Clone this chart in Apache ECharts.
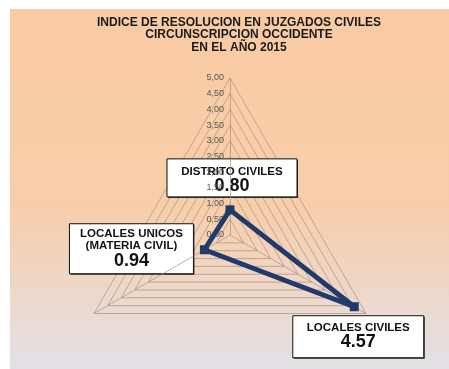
<!DOCTYPE html>
<html><head><meta charset="utf-8">
<script src="https://cdn.jsdelivr.net/npm/echarts@6/dist/echarts.min.js"></script>
<style>html,body{margin:0;padding:0;background:#fff}#c{width:449px;height:369px}</style>
</head><body><div id="c"></div>
<script>
const titleLines = ['INDICE DE RESOLUCION EN JUZGADOS CIVILES', 'CIRCUNSCRIPCION OCCIDENTE', 'EN EL AÑO 2015'];
const categories = ['DISTRITO CIVILES', 'LOCALES UNICOS\n(MATERIA CIVIL)', 'LOCALES CIVILES'];
const values = [0.80, 0.94, 4.57];
const axisMax = 5;

const CX = 230, CY = 235, R = 157;
const chart = echarts.init(document.getElementById('c'), null, {renderer: 'canvas'});
const gridColor = '#a8907e';

const option = {
  backgroundColor: '#ffffff',
  animation: false,
  title: {
    text: titleLines.join('\n'),
    left: 234, top: 11, padding: 5, textAlign: 'center',
    textStyle: {fontFamily: 'Liberation Sans', fontWeight: 'bold', fontSize: 12, lineHeight: 12.5, color: '#1a1a1a'}
  },
  radar: {
    center: [CX, CY], radius: R, startAngle: 90, shape: 'polygon', splitNumber: 10,
    indicator: categories.map((c, i) => ({
      name: c, min: 0, max: axisMax,
      axisLabel: i === 0 ? {show: true} : undefined
    })),
    axisName: {show: false},
    axisLine: {lineStyle: {color: gridColor, width: 0.7}},
    splitLine: {lineStyle: {color: gridColor, width: 0.7}},
    splitArea: {show: false},
    axisTick: {show: false},
    axisLabel: {
      show: false, fontFamily: 'Liberation Sans', fontSize: 9, color: '#555', margin: 6,
      formatter: v => Number(v).toFixed(2).replace('.', ',')
    }
  },
  series: [{
    type: 'radar', z: 5,
    symbol: 'rect', symbolSize: 9,
    lineStyle: {color: '#1F3A6B', width: 5},
    itemStyle: {color: '#1F3A6B'},
    data: [{value: values}]
  }]
};
chart.setOption(option);

// label boxes anchored at each data point
const boxSpec = [
  {dx: 2, dy: -32, w: 130, h: 38, lineYs: [-6, 8]},
  {dx: -73, dy: -1, w: 124, h: 50, lineYs: [-15, -3, 12]},
  {dx: 4, dy: 30, w: 131, h: 42, lineYs: [-9, 5]}
];
function pointOf(v, i) {
  try {
    const cs = chart.getModel().getComponent('radar', 0).coordinateSystem;
    return cs.dataToPoint(v, i);
  } catch (e) {
    const a = (90 + i * 120) * Math.PI / 180;
    const r = v / axisMax * R;
    return [CX + r * Math.cos(a), CY - r * Math.sin(a)];
  }
}
const graphics = [{
  type: 'rect', z: -100, silent: true,
  shape: {x: 10, y: 9, width: 439, height: 360},
  style: {fill: new echarts.graphic.LinearGradient(0, 0, 0, 1, [
    {offset: 0, color: '#F9CBA4'}, {offset: 0.55, color: '#F8CEAA'},
    {offset: 0.8, color: '#EDD8CC'}, {offset: 1, color: '#E2E1E7'}])}
}];
values.forEach((v, i) => {
  const p = pointOf(v, i);
  const s = boxSpec[i];
  const cx = p[0] + s.dx, cy = p[1] + s.dy;
  const lines = categories[i].split('\n').concat([v.toFixed(2)]);
  const children = [{
    type: 'rect',
    shape: {x: -s.w / 2 + 1, y: -s.h / 2 + 1, width: s.w, height: s.h},
    style: {fill: '#333', stroke: null}
  }, {
    type: 'rect',
    shape: {x: -s.w / 2, y: -s.h / 2, width: s.w, height: s.h},
    style: {fill: '#fff', stroke: '#111', lineWidth: 1}
  }];
  lines.forEach((t, k) => {
    const isVal = k === lines.length - 1;
    children.push({
      type: 'text', x: 0, y: s.lineYs[k],
      style: {text: t, align: 'center', verticalAlign: 'middle', fill: '#111',
        font: (isVal ? 'bold 18px' : 'bold 11.5px') + ' "Liberation Sans", Arial'}
    });
  });
  graphics.push({type: 'group', x: cx, y: cy, z: 50, children});
});
chart.setOption({graphic: graphics});
</script></body></html>
